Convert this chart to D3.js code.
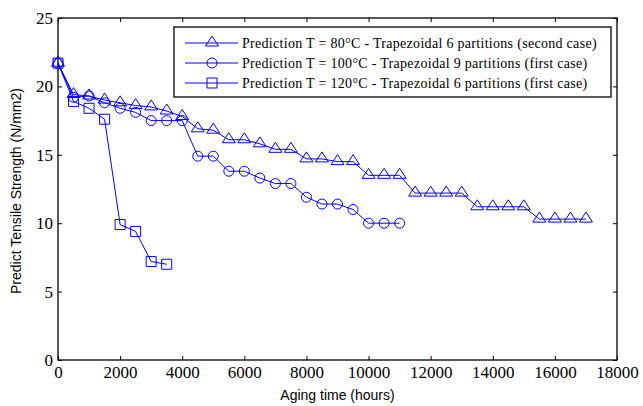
<!DOCTYPE html>
<html>
<head>
<meta charset="utf-8">
<script src="https://cdn.jsdelivr.net/npm/d3@7"></script>
<style>
  body { margin: 0; background: #fff; }
</style>
</head>
<body>
<div class="chart"></div>
<script>
// data
var hours80 = [0,500,1000,1500,2000,2500,3000,3500,4000,4500,5000,5500,6000,6500,7000,7500,8000,8500,
               9000,9500,10000,10500,11000,11500,12000,12500,13000,13500,14000,14500,15000,15500,16000,16500,17000];
var strength80 = [21.7,19.4,19.3,19.0,18.8,18.6,18.5,18.2,17.8,16.9,16.8,16.1,16.1,15.8,15.4,15.4,14.7,14.7,
                  14.5,14.5,13.5,13.5,13.5,12.2,12.2,12.2,12.2,11.2,11.2,11.2,11.2,10.3,10.3,10.3,10.3];

var hours100 = [0,500,1000,1500,2000,2500,3000,3500,4000,4500,5000,5500,6000,6500,7000,7500,8000,8500,
                9000,9500,10000,10500,11000];
var strength100 = [21.7,19.2,19.3,18.8,18.4,18.1,17.5,17.5,17.5,14.9,14.9,13.8,13.8,13.3,12.9,12.9,11.9,11.4,
                   11.4,11.0,10.0,10.0,10.0];

var hours120 = [0,500,1000,1500,2000,2500,3000,3500];
var strength120 = [21.7,18.9,18.4,17.6,9.9,9.4,7.2,7.0];

var seriesNames = ["Prediction T = 80\u00B0C - Trapezoidal 6 partitions (second case)",
                   "Prediction T = 100\u00B0C - Trapezoidal 9 partitions (first case)",
                   "Prediction T = 120\u00B0C - Trapezoidal 6 partitions (first case)"];
var seriesMarkers = ["triangle", "circle", "square"];

var xTicks = [0,2000,4000,6000,8000,10000,12000,14000,16000,18000];
var yTicks = [0,5,10,15,20,25];

var margin = {top: 18, right: 26, bottom: 46, left: 58},
    width = 643 - margin.left - margin.right,
    height = 406 - margin.top - margin.bottom;

var blue = "#0000ff";
var serif = "Liberation Serif";

var svg = d3.select(".chart").append("svg")
    .attr("width", 643)
    .attr("height", 406);

var g = svg.append("g")
    .attr("transform", "translate(" + margin.left + "," + margin.top + ")");

var x = d3.scaleLinear().domain([0, 18000]).range([0, width]);
var y = d3.scaleLinear().domain([0, 25]).range([height, 0]);

// marker shapes, centred on the point
function markerPath(type) {
  if (type == "triangle") return "M0,-7L6.5,3L-6.5,3Z";
  if (type == "circle") return d3.symbol().type(d3.symbolCircle).size(Math.PI * 25)();
  return "M-5,-5L5,-5L5,5L-5,5Z";
}

// bottom axis with labels
var xAxis = g.append("g")
    .attr("transform", "translate(0," + height + ")")
    .call(d3.axisBottom(x).tickValues(xTicks).tickSizeInner(-4).tickSizeOuter(0).tickPadding(6).tickFormat(d3.format("d")))
    .attr("font-family", serif)
    .attr("font-size", 17);
xAxis.selectAll("text").attr("fill", "#000");

// left axis with labels
var yAxis = g.append("g")
    .call(d3.axisLeft(y).tickValues(yTicks).tickSizeInner(-4).tickSizeOuter(0).tickPadding(5))
    .attr("font-family", serif)
    .attr("font-size", 17);
yAxis.selectAll("text").attr("fill", "#000");

// top and right ticks, no labels
g.append("g").call(d3.axisTop(x).tickValues(xTicks).tickSizeInner(-4).tickSizeOuter(0).tickFormat(""));
g.append("g").attr("transform", "translate(" + width + ",0)")
  .call(d3.axisRight(y).tickValues(yTicks).tickSizeInner(-4).tickSizeOuter(0).tickFormat(""));

g.selectAll(".domain").remove();

// box
g.append("rect")
    .attr("width", width)
    .attr("height", height)
    .attr("fill", "none")
    .attr("stroke", "#000")
    .attr("stroke-width", 1.3);

var series = [
  {hours: hours80, values: strength80},
  {hours: hours100, values: strength100},
  {hours: hours120, values: strength120}
];

var line = d3.line()
    .x(function(d) { return x(d[0]); })
    .y(function(d) { return y(d[1]); });

series.forEach(function(s, i) {
  var pts = s.hours.map(function(h, j) { return [h, s.values[j]]; });
  g.append("path")
      .datum(pts)
      .attr("fill", "none")
      .attr("stroke", blue)
      .attr("stroke-width", 1)
      .attr("d", line);
  g.append("g").selectAll("path")
      .data(pts)
      .enter()
      .append("path")
      .attr("transform", function(d) { return "translate(" + x(d[0]) + "," + y(d[1]) + ")"; })
      .attr("d", markerPath(seriesMarkers[i]))
      .attr("fill", "none")
      .attr("stroke", blue)
      .attr("stroke-width", 1);
});

// legend
var legend = svg.append("g").attr("transform", "translate(174,27)");
legend.append("rect")
    .attr("width", 437)
    .attr("height", 70)
    .attr("fill", "#fff")
    .attr("stroke", "#000")
    .attr("stroke-width", 1.3);

seriesNames.forEach(function(name, i) {
  var row = legend.append("g").attr("transform", "translate(0," + (16 + i * 20) + ")");
  row.append("line")
      .attr("x1", 11).attr("x2", 64)
      .attr("stroke", blue).attr("stroke-width", 1);
  row.append("path")
      .attr("transform", "translate(38,0)")
      .attr("d", markerPath(seriesMarkers[i]))
      .attr("fill", "none")
      .attr("stroke", blue);
  row.append("text")
      .attr("x", 68)
      .attr("y", 5)
      .attr("font-family", serif)
      .attr("font-size", 14)
      .style("letter-spacing", "0.3px")
      .text(name);
});

// axis titles
svg.append("text")
    .attr("x", margin.left + width / 2)
    .attr("y", 400)
    .attr("text-anchor", "middle")
    .attr("font-family", "Liberation Sans")
    .attr("font-size", 14)
    .text("Aging time (hours)");

svg.append("text")
    .attr("transform", "rotate(-90)")
    .attr("x", -191)
    .attr("y", 21)
    .attr("text-anchor", "middle")
    .attr("font-family", "Liberation Sans")
    .attr("font-size", 14)
    .text("Predict Tensile Strength (N/mm2)");
</script>
</body>
</html>
